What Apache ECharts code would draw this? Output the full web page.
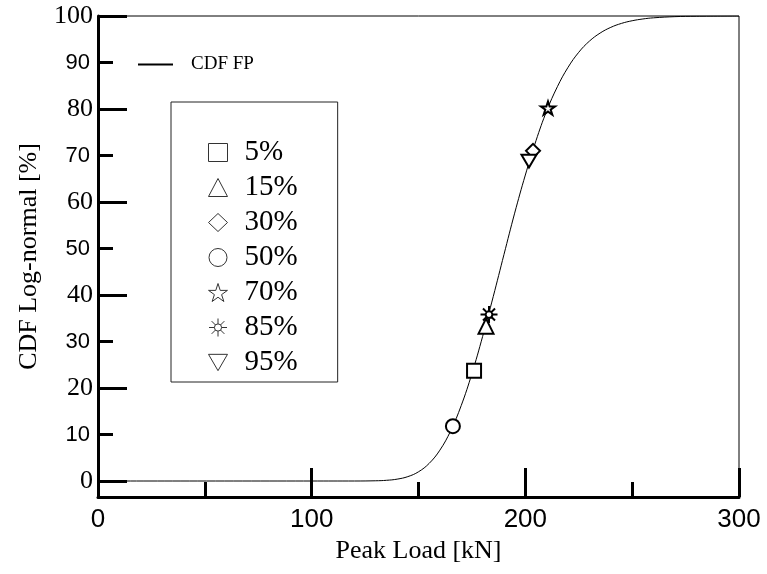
<!DOCTYPE html>
<html>
<head>
<meta charset="utf-8">
<script src="https://cdn.jsdelivr.net/npm/echarts@6/dist/echarts.min.js"></script>
<style>
html,body{margin:0;padding:0;background:#fff;}
#main{width:767px;height:574px;}
</style>
</head>
<body>
<div id="main"></div>
<script>
// CDF curve
var loadKN = [0, 100, 120, 130, 135, 140, 145, 150, 155, 160, 165, 170, 175, 180, 185, 190, 195, 200, 205, 210, 215, 220, 225, 230, 235, 240, 245, 250, 255, 260, 270, 280, 300];
var cdfFP = [0, 0, 0, 0.05, 0.15, 0.4, 0.94, 1.98, 3.79, 6.63, 10.73, 16.23, 23.09, 31.07, 39.7, 48.7, 57.6, 65.8, 73.2, 79.6, 84.8, 88.97, 92.2, 94.6, 96.33, 97.56, 98.41, 98.98, 99.36, 99.61, 99.86, 99.95, 100];

// percentile markers
var pctNames = ['5%', '15%', '30%', '50%', '70%', '85%', '95%'];
var pctLoad = [176, 181.6, 203.6, 166.1, 210.6, 183.0, 201.7];
var pctCdf = [23.7, 33.3, 71.0, 11.8, 80.2, 35.8, 68.8];

var yMajor = [0, 20, 40, 60, 80, 100];
var yMinor = [10, 30, 50, 70, 90];

var serif = "'Liberation Serif','Times New Roman',serif";
var sans = "'Liberation Sans',Arial,sans-serif";

var starPath = 'path://M50 0 L61.17 34.63 L97.55 34.55 L68.07 55.87 L79.39 90.45 L50 69 L20.61 90.45 L31.93 55.87 L2.45 34.55 L38.83 34.63 Z';
var sunPath = 'path://M30 50 A20 20 0 1 1 70 50 A20 20 0 1 1 30 50 Z M70 50 L100 50 M64.14 64.14 L85.36 85.36 M50 70 L50 100 M35.86 64.14 L14.64 85.36 M30 50 L0 50 M35.86 35.86 L14.64 14.64 M50 30 L50 0 M64.14 35.86 L85.36 14.64';
var downTri = 'path://M0 0 L100 0 L50 86 Z';
var symbols = ['rect', 'triangle', 'diamond', 'circle', starPath, sunPath, downTri];
var sizes = [14, 15, 14, 14, 14, 17, 15];

var chart = echarts.init(document.getElementById('main'));

var series = [{
    name: 'CDF FP',
    type: 'line',
    symbol: 'none',
    smooth: 0.4,
    itemStyle: {color: '#000'},
    lineStyle: {color: '#000', width: 1},
    data: loadKN.map(function (x, i) { return [x, cdfFP[i]]; }),
    z: 2
}];
pctNames.forEach(function (n, i) {
    series.push({
        name: n,
        type: 'scatter',
        symbol: symbols[i],
        symbolSize: sizes[i],
        symbolKeepAspect: true,
        itemStyle: {color: '#fff', borderColor: '#000', borderWidth: 2, opacity: 1},
        data: [[pctLoad[i], pctCdf[i]]],
        z: 5
    });
});

var option = {
    animation: false,
    backgroundColor: '#fff',
    grid: {left: 98, right: 28, top: 16, bottom: 77, outerBoundsMode: 'none',
        show: true, borderColor: '#000', borderWidth: 1},
    legend: [{
        left: 137, top: 55, padding: 0,
        itemWidth: 35, itemHeight: 14,
        data: [{name: 'CDF FP', itemStyle: {opacity: 0}}],
        textStyle: {fontFamily: serif, fontSize: 19, color: '#000', padding: [0, 0, 0, 13]}
    }, {
        left: 171, top: 102,
        orient: 'vertical',
        padding: [36, 40, 5, 37],
        borderColor: '#222', borderWidth: 1,
        itemWidth: 19, itemHeight: 18, itemGap: 6,
        data: pctNames.map(function (n) {
            return {name: n, itemStyle: {color: '#fff', borderColor: '#333', borderWidth: 1}};
        }),
        textStyle: {fontFamily: serif, fontSize: 29, color: '#000', padding: [0, 0, 0, 12]}
    }],
    xAxis: {
        type: 'value', min: 0, max: 300, interval: 100,
        name: 'Peak Load [kN]', nameLocation: 'middle', nameGap: 41,
        nameTextStyle: {fontFamily: serif, fontSize: 26, color: '#000'},
        axisLine: {onZero: false, lineStyle: {color: '#000', width: 3}},
        axisTick: {inside: true, length: 29, lineStyle: {color: '#000', width: 3}},
        minorTick: {show: true, splitNumber: 2, length: 15, lineStyle: {color: '#000', width: 3}},
        axisLabel: {fontFamily: sans, fontSize: 26, color: '#000', margin: 10},
        splitLine: {show: false}
    },
    yAxis: [{
        type: 'value', min: -3.44, max: 100, position: 'left',
        name: 'CDF Log-normal [%]', nameLocation: 'middle', nameGap: 56,
        nameTextStyle: {fontFamily: serif, fontSize: 26, color: '#000'},
        axisLine: {show: true, onZero: false, lineStyle: {color: '#000', width: 3}},
        axisTick: {inside: true, length: 29, customValues: yMajor, lineStyle: {color: '#000', width: 3}},
        axisLabel: {customValues: yMajor, fontFamily: serif, fontSize: 26, color: '#000', margin: 5},
        splitLine: {show: false}
    }, {
        type: 'value', min: -3.44, max: 100, position: 'left',
        axisLine: {show: false, onZero: false},
        axisTick: {show: true, inside: true, length: 15, customValues: yMinor, lineStyle: {color: '#000', width: 3}},
        axisLabel: {customValues: yMinor, fontFamily: sans, fontSize: 22, color: '#000', margin: 8},
        splitLine: {show: false}
    }],
    series: series
};
chart.setOption(option);
</script>
</body>
</html>
